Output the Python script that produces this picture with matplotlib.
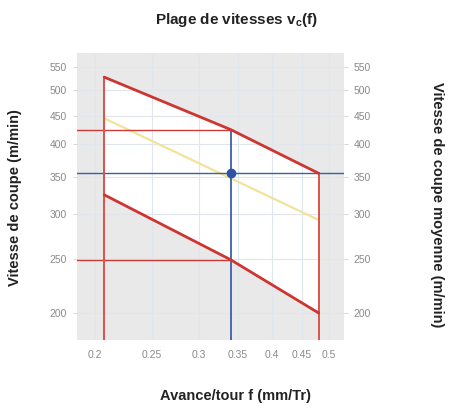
import matplotlib
matplotlib.use("Agg")
import matplotlib.pyplot as plt
from matplotlib.ticker import FixedLocator, FixedFormatter, NullLocator

plt.rcParams['font.family'] = ['Liberation Sans', 'DejaVu Sans']

# Data
f_range = [0.2075, 0.48]          # feed limits (mm/Tr)
f_pts = [0.2075, 0.34, 0.48]      # feeds along boundaries
vc_top = [527, 425, 355]          # upper speed boundary (m/min)
vc_bottom = [325, 249, 200]       # lower speed boundary (m/min)
vc_mean = [445, 293]              # mean cutting speed (m/min)
f_sel = 0.34                      # selected feed
vc_sel = 355                      # selected speed
vc_sel_hi = 425                   # upper speed at selected feed
vc_sel_lo = 249                   # lower speed at selected feed

x_ticks = [0.2, 0.25, 0.3, 0.35, 0.4, 0.45, 0.5]
x_labels = ['0.2', '0.25', '0.3', '0.35', '0.4', '0.45', '0.5']
y_ticks = [200, 250, 300, 350, 400, 450, 500, 550]
y_labels = ['200', '250', '300', '350', '400', '450', '500', '550']

XMIN, XMAX = 0.1865, 0.530
YMIN, YMAX = 179, 582

fig = plt.figure(figsize=(4.56, 4.08), dpi=100)
ax = fig.add_axes([77/456, 1-340/408, (344-77)/456, (340-53)/408])
ax.set_xscale('log')
ax.set_yscale('log')
ax.set_xlim(XMIN, XMAX)
ax.set_ylim(YMIN, YMAX)
ax.set_facecolor('#e9e9e9')
for s in ax.spines.values():
    s.set_visible(False)

# white fill of the valid region
poly_x = f_pts + f_pts[::-1]
poly_y = vc_top + vc_bottom[::-1]
ax.fill(poly_x, poly_y, color='white', zorder=1, lw=0)

ax.xaxis.set_major_locator(FixedLocator(x_ticks))
ax.xaxis.set_major_formatter(FixedFormatter(x_labels))
ax.xaxis.set_minor_locator(NullLocator())
ax.yaxis.set_major_locator(FixedLocator(y_ticks))
ax.yaxis.set_major_formatter(FixedFormatter(y_labels))
ax.yaxis.set_minor_locator(NullLocator())
ax.grid(True, color='#e1e5ec', lw=0.8, zorder=2)
ax.set_axisbelow(False)
ax.tick_params(axis='both', colors='#d0d0d0', labelcolor='#8a8a8a', labelsize=7.5, length=3, width=0.6)
ax.tick_params(axis='x', pad=7, length=0)
ax.tick_params(axis='y', left=True, right=True, labelleft=True, labelright=True, pad=4)

# mean line
ax.plot(f_range, vc_mean, color='#f2e39a', lw=1.6, zorder=3)

# guide lines
ax.axhline(vc_sel, color='#3a5da8', lw=1.0, zorder=4)
ax.plot([XMIN, f_sel], [vc_sel_hi, vc_sel_hi], color='#cc3b36', lw=1.0, zorder=4)
ax.plot([XMIN, f_sel], [vc_sel_lo, vc_sel_lo], color='#cc3b36', lw=1.0, zorder=4)
ax.plot([f_sel, f_sel], [YMIN, vc_sel_hi], color='#2f52a3', lw=1.2, zorder=4)

# boundary
ax.plot([f_range[0], f_range[0]], [YMIN, vc_top[0]], color='#e0504a', lw=1.4, zorder=5)
ax.plot([f_range[1], f_range[1]], [YMIN, vc_top[-1]], color='#e0504a', lw=1.4, zorder=5)
ax.plot(f_pts, vc_top, color='#cf3530', lw=2.0, zorder=5, solid_capstyle='round')
ax.plot(f_pts, vc_bottom, color='#cf3530', lw=2.0, zorder=5, solid_capstyle='round')

ax.plot([f_sel], [vc_sel], 'o', color='#2f52a3', ms=6, zorder=6)

fig.text(236/456, 1-20/408, 'Plage de vitesses v$_\\mathregular{c}$(f)', ha='center', va='center',
         fontsize=11, fontweight='bold', color='#222222')
fig.text(236/456, 1-396/408, 'Avance/tour f (mm/Tr)', ha='center', va='center',
         fontsize=10.5, fontweight='bold', color='#222222')
fig.text(15/456, 1-198/408, 'Vitesse de coupe (m/min)', ha='center', va='center', rotation=90,
         fontsize=10.5, fontweight='bold', color='#222222')
fig.text(437/456, 1-205/408, 'Vitesse de coupe moyenne (m/min)', ha='center', va='center', rotation=270,
         fontsize=10.5, fontweight='bold', color='#222222')

fig.savefig('out.png', dpi=100)
